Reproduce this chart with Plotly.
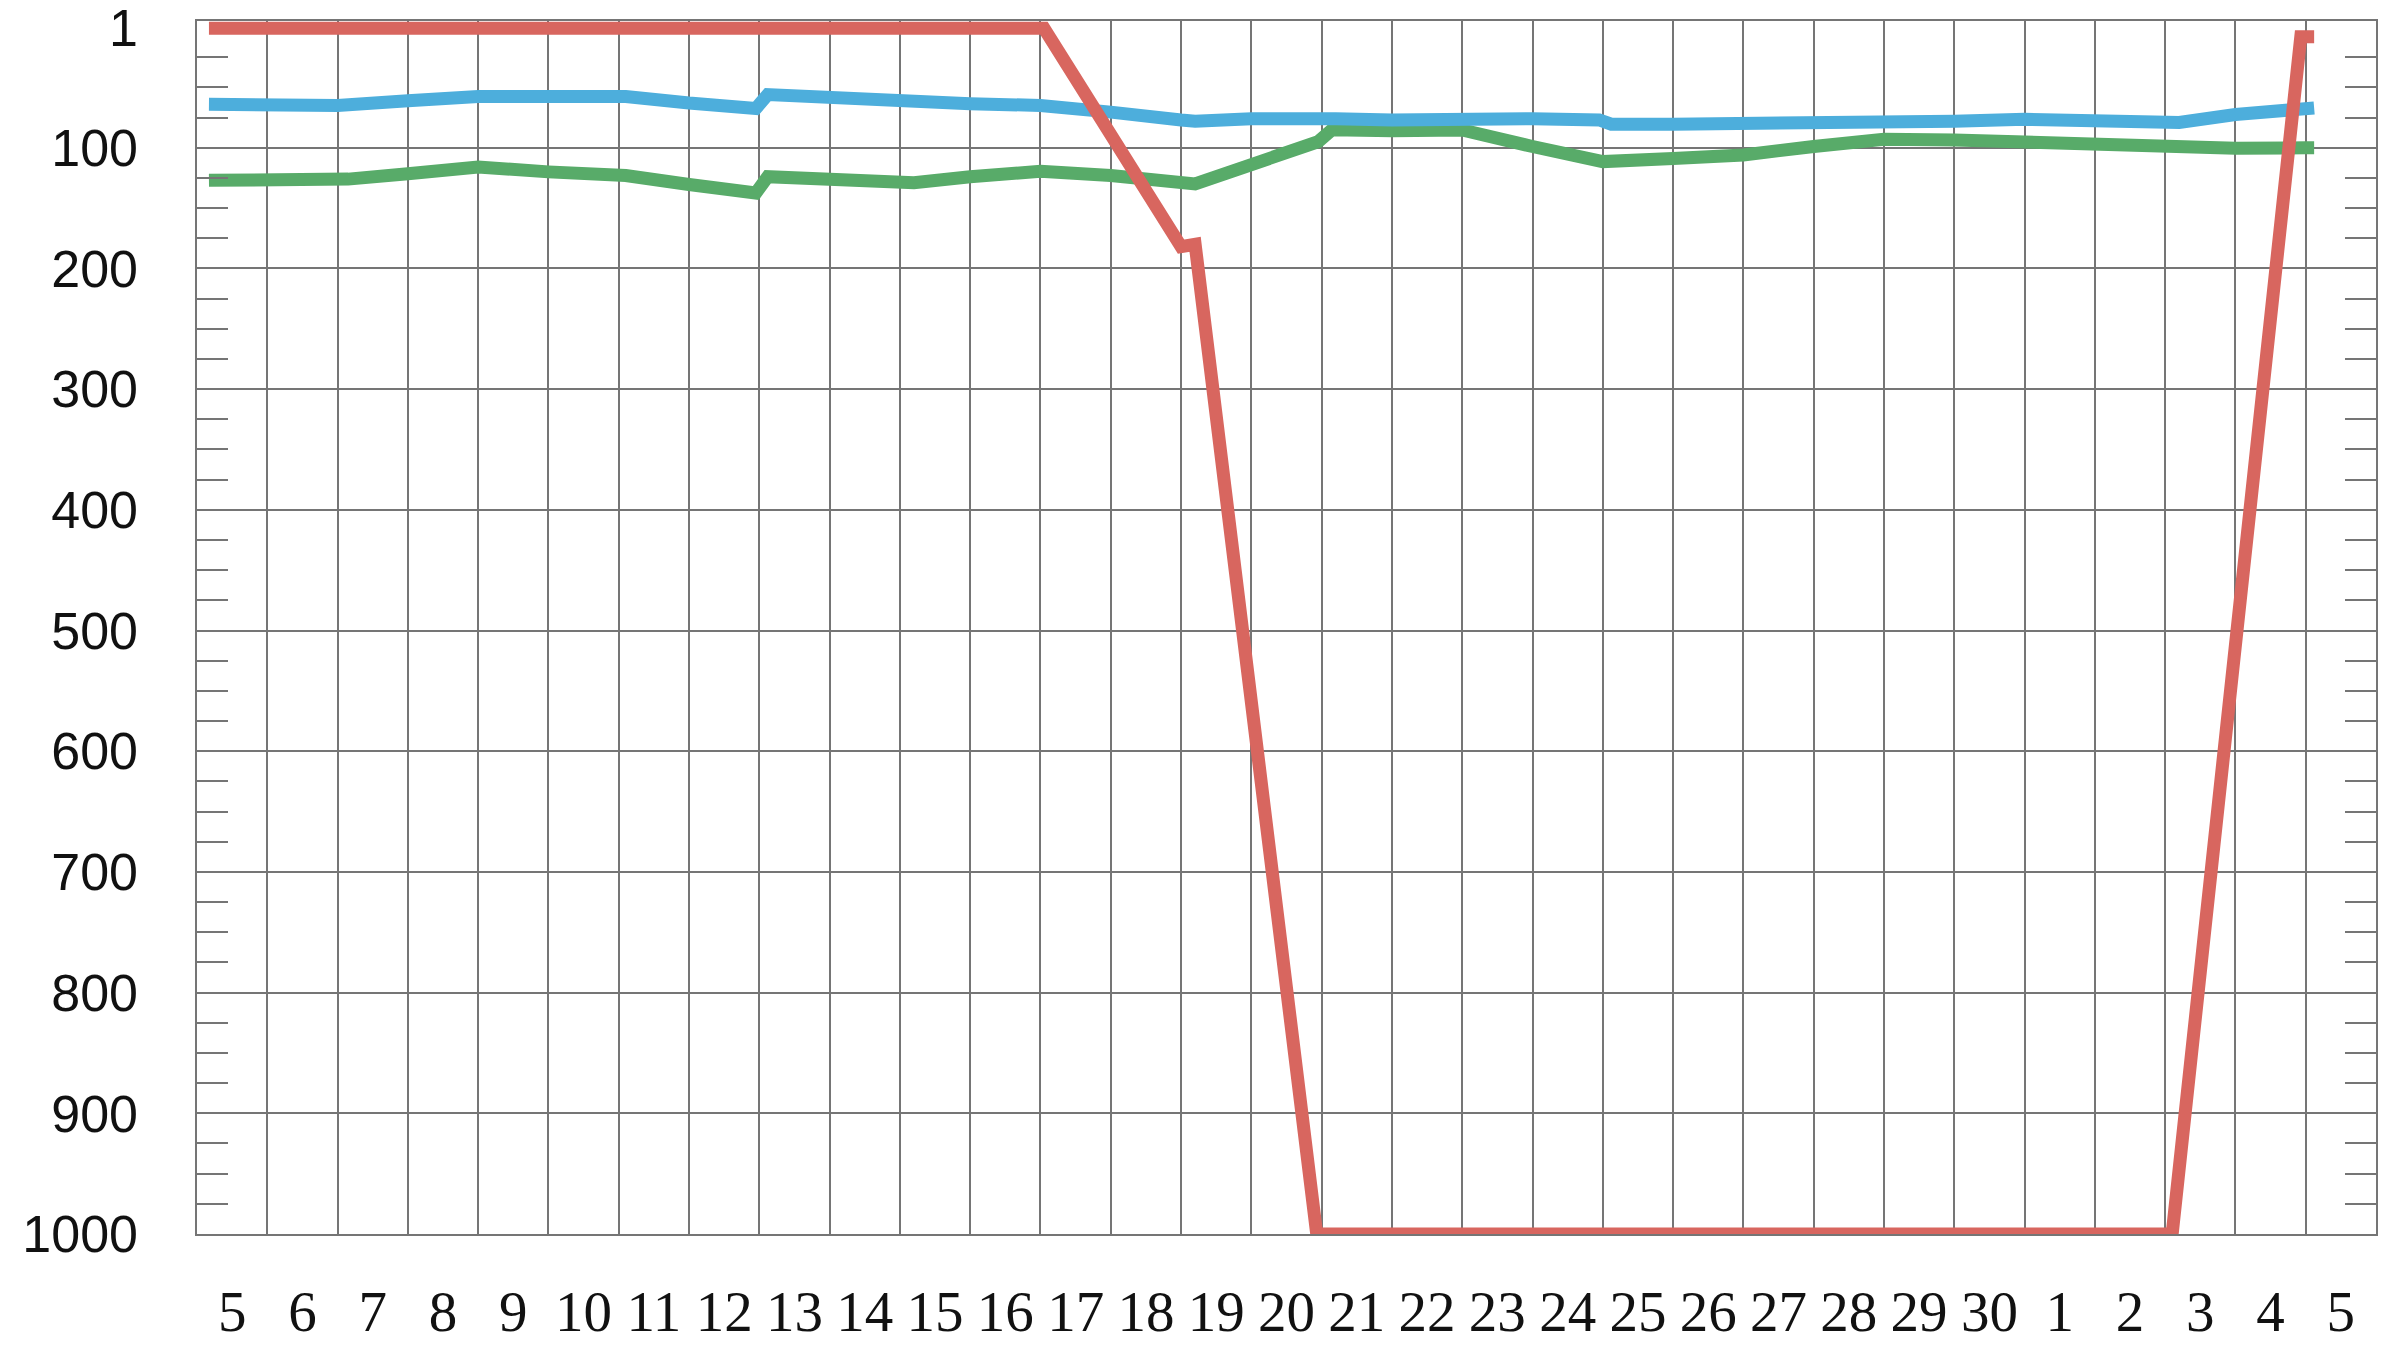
import plotly.graph_objects as go

# ---- data (x = position in day columns, y = rank) ----
day_labels = ["5", "6", "7", "8", "9", "10", "11", "12", "13", "14", "15", "16",
              "17", "18", "19", "20", "21", "22", "23", "24", "25", "26", "27",
              "28", "29", "30", "1", "2", "3", "4", "5"]

red_x = [0.17, 12.05, 14.0, 14.2, 15.93, 28.1, 29.93, 30.12]
red_y = [1, 1, 182, 180, 1000, 1000, 8, 8]

blue_x = [0.17, 1.0, 1.3, 2.0, 3.0, 4.0, 5.0, 6.1, 7.0, 7.95, 8.12, 9.0, 10.0,
          11.0, 12.0, 12.25, 13.0, 14.0, 14.2, 15.0, 16.0, 16.2, 17.0, 18.0,
          19.0, 19.95, 20.12, 21.0, 22.0, 23.0, 24.0, 25.0, 26.0, 27.0, 28.0,
          28.2, 29.0, 30.0, 30.12]
blue_y = [64, 64, 66, 65, 61, 57.5, 57.5, 57.5, 63, 67.5, 56, 59, 62,
          63.5, 65, 66, 70.5, 77, 78, 76, 74, 76, 77, 76,
          76, 77, 80.5, 80.5, 80.5, 79.5, 78.5, 78, 76.5, 77.5, 79,
          79, 72.5, 67, 67]

green_x = [0.17, 1.0, 2.0, 2.15, 3.0, 4.0, 5.0, 6.0, 6.1, 7.0, 7.95, 8.12,
           9.0, 10.0, 10.2, 11.0, 12.0, 13.0, 14.0, 14.2, 15.95, 16.15, 17.0,
           18.0, 19.0, 20.0, 21.0, 22.0, 23.0, 24.0, 25.0, 26.0, 27.0, 28.0,
           29.0, 30.0, 30.12]
green_y = [127, 127, 126.5, 126, 121.5, 116, 120, 123, 123, 130.5, 137.5, 124,
           126, 129, 129, 124, 119.5, 123, 127, 130, 95, 85, 86,
           85.3, 99, 111.5, 109, 106, 99, 93, 93.5, 95.5, 98.3, 101,
           100.5, 100, 100]

rank_ticks = [1, 100, 200, 300, 400, 500, 600, 700, 800, 900, 1000]
grid_ranks = [100, 200, 300, 400, 500, 600, 700, 800, 900, 1000]
minor_ranks = [v for v in range(25, 1000, 25) if v % 100 != 0]

RED = "#D8665F"
BLUE = "#4DAEDC"
GREEN = "#58AB69"
GRID = "#757575"

fig = go.Figure()
for xs, ys, col in [(green_x, green_y, GREEN), (blue_x, blue_y, BLUE), (red_x, red_y, RED)]:
    fig.add_trace(go.Scatter(x=xs, y=ys, mode="lines",
                             line=dict(color=col, width=13),
                             showlegend=False, hoverinfo="skip"))

label_pos = [i + 0.5 for i in range(len(day_labels))]

fig.update_layout(
    width=2382, height=1346,
    margin=dict(l=197, r=6, t=21, b=112, autoexpand=False),
    paper_bgcolor="white", plot_bgcolor="white",
    showlegend=False,
    xaxis=dict(
        range=[0, len(day_labels)],
        tickmode="array", tickvals=label_pos, ticktext=day_labels,
        showgrid=False, zeroline=False,
        showline=True, mirror=True, linecolor=GRID, linewidth=2,
        ticks="", ticklabelstandoff=27,
        tickfont=dict(family="Liberation Serif", size=57, color="#111111"),
        minor=dict(tickmode="linear", tick0=0, dtick=1, showgrid=True,
                   gridcolor=GRID, gridwidth=1.6, ticks=""),
    ),
    yaxis=dict(
        range=[1000, -5],
        tickmode="array", tickvals=grid_ranks,
        showticklabels=False,
        showgrid=True, gridcolor=GRID, gridwidth=1.6, zeroline=False,
        showline=True, mirror="allticks", linecolor=GRID, linewidth=2,
        ticks="",
        minor=dict(tickmode="array", tickvals=minor_ranks, ticks="inside",
                   ticklen=31, tickwidth=1.6, tickcolor=GRID, showgrid=False),
    ),
    yaxis2=dict(
        overlaying="y", side="left", anchor="x",
        range=[1000, -5],
        tickmode="array", tickvals=rank_ticks, ticktext=[str(v) for v in rank_ticks],
        showgrid=False, zeroline=False, showline=False, ticks="",
        ticklabelstandoff=58, ticklabeloverflow="allow",
        tickfont=dict(family="Liberation Sans", size=52, color="#111111"),
    ),
)

# invisible helper so the label axis is drawn
fig.add_trace(go.Scatter(x=[None], y=[None], yaxis="y2", mode="lines",
                         showlegend=False, hoverinfo="skip"))

fig.write_html("out.html", config={"displayModeBar": False},
               post_script="document.body.style.margin='0';document.body.style.overflow='hidden';")
